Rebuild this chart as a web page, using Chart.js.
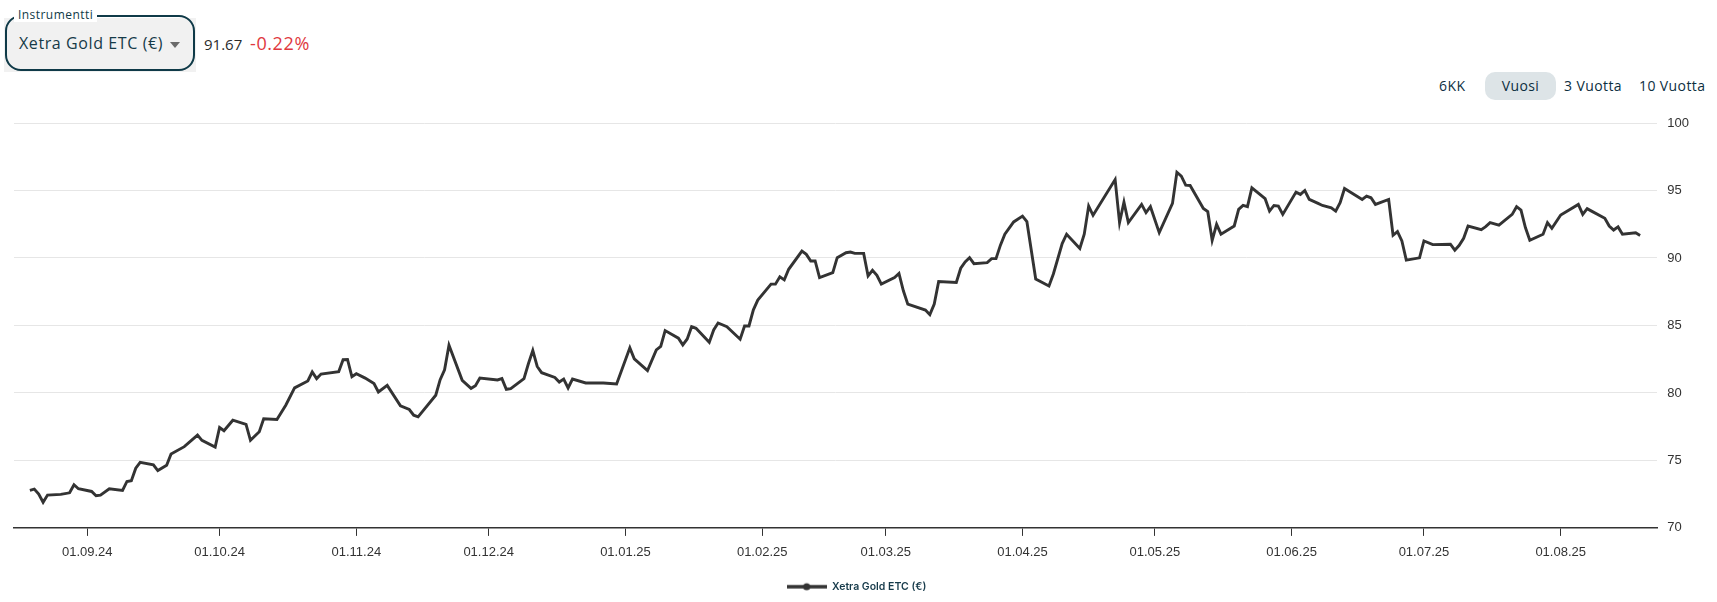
<!DOCTYPE html>
<html lang="fi">
<head>
<meta charset="utf-8">
<title>Xetra Gold ETC (€)</title>
<script src="https://cdn.jsdelivr.net/npm/chart.js@4.4.1/dist/chart.umd.min.js"></script>
<style>
  html, body { margin: 0; padding: 0; background: #fff; }
  body { width: 1717px; height: 602px; position: relative; overflow: hidden; font-family: "Open Sans", sans-serif; }

  .valinta-tausta { position: absolute; left: 4px; top: 18px; width: 192px; height: 54px; background: #f1f1f1; }
  .valinta { position: absolute; left: 5px; top: 15px; width: 186px; height: 52px; border: 2px solid #0f3a48; border-radius: 16px; }
  .valinta-otsikko { position: absolute; left: 7px; top: -9px; padding: 0 4px; background: #fff; font-size: 12px; letter-spacing: 0.45px; line-height: 14px; color: #0f3a48; }
  .valinta-teksti { position: absolute; left: 12px; top: 16px; font-size: 16px; letter-spacing: 0.6px; line-height: 20px; color: #163a48; white-space: nowrap; }
  .nuoli { position: absolute; left: 163px; top: 25px; width: 0; height: 0; border-left: 5px solid transparent; border-right: 5px solid transparent; border-top: 6px solid #6b6b6b; }
  .hinta { position: absolute; left: 204px; top: 34px; font-size: 15px; line-height: 20px; color: #2b2b2b; }
  .muutos { position: absolute; left: 250px; top: 33px; font-size: 18px; letter-spacing: 0.6px; line-height: 20px; color: #e0383e; }

  .jakso { position: absolute; top: 76px; font-size: 14px; letter-spacing: 0.4px; line-height: 20px; color: #0d2f3f; white-space: nowrap; }
  .jakso.valittu { top: 72px; height: 28px; line-height: 28px; width: 71px; text-align: center; background: #dde4e7; border-radius: 10px; }

  #kaavio { position: absolute; left: 0; top: 100px; width: 1717px; height: 502px; }
</style>
</head>
<body>

<div class="valinta-tausta"></div>
<div class="valinta">
  <span class="valinta-otsikko">Instrumentti</span>
  <span class="valinta-teksti">Xetra Gold ETC (€)</span>
  <span class="nuoli"></span>
</div>
<span class="hinta">91.67</span>
<span class="muutos">-0.22%</span>

<span class="jakso" style="left:1439px">6KK</span>
<span class="jakso valittu" style="left:1485px">Vuosi</span>
<span class="jakso" style="left:1564px">3 Vuotta</span>
<span class="jakso" style="left:1639px">10 Vuotta</span>

<div id="kaavio"><canvas id="grafiikka"></canvas></div>

<script>
// datas (luettu kuvasta)
const dates = [
    '2024-08-19', '2024-08-20', '2024-08-21', '2024-08-22', '2024-08-23', '2024-08-26', '2024-08-28', '2024-08-29', '2024-08-30',
    '2024-09-02', '2024-09-03', '2024-09-04', '2024-09-06', '2024-09-09', '2024-09-10', '2024-09-11', '2024-09-12', '2024-09-13',
    '2024-09-16', '2024-09-17', '2024-09-19', '2024-09-20', '2024-09-23', '2024-09-26', '2024-09-27', '2024-09-30',
    '2024-10-01', '2024-10-02', '2024-10-04', '2024-10-07', '2024-10-08', '2024-10-10', '2024-10-11', '2024-10-14', '2024-10-16',
    '2024-10-18', '2024-10-21', '2024-10-22', '2024-10-23', '2024-10-24', '2024-10-28', '2024-10-29', '2024-10-30', '2024-10-31',
    '2024-11-01', '2024-11-03', '2024-11-05', '2024-11-06', '2024-11-08', '2024-11-11', '2024-11-13', '2024-11-14', '2024-11-15',
    '2024-11-19', '2024-11-20', '2024-11-21', '2024-11-22', '2024-11-25', '2024-11-27', '2024-11-28', '2024-11-29',
    '2024-12-03', '2024-12-04', '2024-12-05', '2024-12-06', '2024-12-09', '2024-12-10', '2024-12-11', '2024-12-12', '2024-12-13',
    '2024-12-16', '2024-12-17', '2024-12-18', '2024-12-19', '2024-12-20', '2024-12-23', '2024-12-27', '2024-12-30',
    '2025-01-02', '2025-01-03', '2025-01-06', '2025-01-08', '2025-01-09', '2025-01-10', '2025-01-13', '2025-01-14', '2025-01-15',
    '2025-01-16', '2025-01-17', '2025-01-20', '2025-01-21', '2025-01-22', '2025-01-24', '2025-01-27', '2025-01-28', '2025-01-29',
    '2025-01-30', '2025-01-31',
    '2025-02-03', '2025-02-04', '2025-02-05', '2025-02-06', '2025-02-07', '2025-02-10', '2025-02-11', '2025-02-12', '2025-02-13',
    '2025-02-14', '2025-02-17', '2025-02-18', '2025-02-20', '2025-02-21', '2025-02-22', '2025-02-24', '2025-02-25', '2025-02-26',
    '2025-02-27', '2025-02-28',
    '2025-03-03', '2025-03-04', '2025-03-05', '2025-03-06', '2025-03-10', '2025-03-11', '2025-03-12', '2025-03-13', '2025-03-17',
    '2025-03-18', '2025-03-19', '2025-03-20', '2025-03-21', '2025-03-24', '2025-03-25', '2025-03-26', '2025-03-27', '2025-03-28',
    '2025-03-30',
    '2025-04-01', '2025-04-02', '2025-04-04', '2025-04-07', '2025-04-08', '2025-04-10', '2025-04-11', '2025-04-14', '2025-04-15',
    '2025-04-16', '2025-04-17', '2025-04-22', '2025-04-23', '2025-04-24', '2025-04-25', '2025-04-28', '2025-04-29', '2025-04-30',
    '2025-05-02', '2025-05-05', '2025-05-06', '2025-05-07', '2025-05-08', '2025-05-09', '2025-05-12', '2025-05-13', '2025-05-14',
    '2025-05-15', '2025-05-16', '2025-05-19', '2025-05-20', '2025-05-21', '2025-05-22', '2025-05-23', '2025-05-26', '2025-05-27',
    '2025-05-28', '2025-05-29', '2025-05-30',
    '2025-06-02', '2025-06-03', '2025-06-04', '2025-06-05', '2025-06-07', '2025-06-08', '2025-06-10', '2025-06-11', '2025-06-12',
    '2025-06-13', '2025-06-17', '2025-06-18', '2025-06-19', '2025-06-20', '2025-06-23', '2025-06-24', '2025-06-25', '2025-06-26',
    '2025-06-27', '2025-06-30',
    '2025-07-01', '2025-07-03', '2025-07-07', '2025-07-08', '2025-07-09', '2025-07-10', '2025-07-11', '2025-07-14', '2025-07-15',
    '2025-07-16', '2025-07-18', '2025-07-21', '2025-07-22', '2025-07-23', '2025-07-24', '2025-07-25', '2025-07-28', '2025-07-29',
    '2025-07-30',
    '2025-08-01', '2025-08-05', '2025-08-06', '2025-08-07', '2025-08-08', '2025-08-11', '2025-08-12', '2025-08-13', '2025-08-14',
    '2025-08-15', '2025-08-18', '2025-08-19'
];

const prices = [
    72.78, 72.87, 72.5, 71.9, 72.43, 72.48, 72.6, 73.2, 72.9,
    72.7, 72.38, 72.43, 72.9, 72.78, 73.44, 73.49, 74.42, 74.86,
    74.67, 74.25, 74.64, 75.48, 76.02, 76.88, 76.49, 75.99,
    77.44, 77.2, 77.98, 77.67, 76.49, 77.13, 78.09, 78.03, 79.09,
    80.37, 80.89, 81.55, 81.06, 81.4, 81.57, 82.46, 82.48, 81.2,
    81.42, 81.1, 80.69, 80.07, 80.56, 79.04, 78.77, 78.35, 78.23,
    79.83, 80.98, 81.72, 83.54, 80.93, 80.34, 80.54, 81.1,
    80.96, 81.06, 80.27, 80.32, 81.06, 82.16, 83.14, 81.96, 81.5,
    81.15, 80.81, 81.03, 80.37, 81.03, 80.74, 80.74, 80.66,
    83.34, 82.53, 81.65, 83.19, 83.44, 84.62, 84.06, 83.56, 84.0,
    84.91, 84.79, 83.76, 84.67, 85.18, 84.91, 83.98, 84.96, 84.96,
    86.16, 86.88,
    88.06, 88.06, 88.6, 88.38, 89.16, 90.51, 90.27, 89.78, 89.78,
    88.55, 88.92, 90.02, 90.39, 90.44, 90.34, 90.34, 88.67, 89.09,
    88.72, 88.06,
    88.55, 88.85, 87.57, 86.58, 86.14, 85.8, 86.58, 88.25, 88.18,
    89.24, 89.71, 90.02, 89.58, 89.65, 89.95, 89.95, 90.95, 91.76,
    92.67,
    93.1, 92.69, 88.44, 87.92, 88.81, 91.07, 91.76, 90.7, 91.76,
    93.85, 93.16, 95.81, 92.62, 94.14, 92.62, 93.97, 93.36, 93.8,
    91.88, 94.04, 96.35, 96.06, 95.39, 95.37, 93.67, 93.43, 91.31,
    92.49, 91.76, 92.37, 93.6, 93.89, 93.8, 95.2, 94.39, 93.47,
    93.89, 93.84, 93.23,
    94.88, 94.71, 95.0, 94.34, 94.04, 93.89, 93.72, 93.47, 94.09,
    95.15, 94.34, 94.58, 94.46, 93.97, 94.34, 91.68, 91.95, 91.26,
    89.84, 90.01,
    91.26, 90.99, 91.02, 90.58, 90.94, 91.46, 92.37, 92.1, 92.32,
    92.62, 92.44, 93.23, 93.8, 93.55, 92.25, 91.31, 91.76, 92.62,
    92.2,
    93.18, 93.97, 93.23, 93.65, 93.47, 92.94, 92.37, 92.07, 92.3,
    91.76, 91.86, 91.67
];

const tickDates = [
    '2024-09-01', '2024-10-01', '2024-11-01', '2024-12-01', '2025-01-01', '2025-02-01',
    '2025-03-01', '2025-04-01', '2025-05-01', '2025-06-01', '2025-07-01', '2025-08-01'
];

const yTicks = [70, 75, 80, 85, 90, 95, 100];

const seriesName = 'Xetra Gold ETC (€)';

const DAY = 24 * 60 * 60 * 1000;

function formatDate(ms) {
    const d = new Date(ms);
    const dd = String(d.getUTCDate()).padStart(2, '0');
    const mm = String(d.getUTCMonth() + 1).padStart(2, '0');
    const yy = String(d.getUTCFullYear()).slice(2);
    return `${dd}.${mm}.${yy}`;
}

const points = dates.map((d, i) => ({ x: Date.parse(d), y: prices[i] }));

// legendan ikoni: viiva + pallo
const legendIcon = document.createElement('canvas');
legendIcon.width = 40;
legendIcon.height = 10;
const ictx = legendIcon.getContext('2d');
ictx.strokeStyle = '#333333';
ictx.lineWidth = 3.5;
ictx.beginPath();
ictx.moveTo(0, 5);
ictx.lineTo(40, 5);
ictx.stroke();
ictx.fillStyle = '#333333';
ictx.beginPath();
ictx.arc(20, 5, 3.6, 0, Math.PI * 2);
ictx.fill();

const axisFont = { family: '"Liberation Sans", Arial, sans-serif', size: 13 };

const config = {
    type: 'line',
    data: {
        datasets: [{
            label: seriesName,
            data: points,
            borderColor: '#333333',
            backgroundColor: '#333333',
            borderWidth: 2.9,
            pointRadius: 0,
            tension: 0,
            fill: false
        }]
    },
    options: {
        responsive: true,
        maintainAspectRatio: false,
        animation: false,
        layout: { padding: { left: 14, right: 18, top: 23, bottom: 0 } },
        scales: {
            x: {
                type: 'linear',
                min: Date.parse(dates[0]) - 3.6 * DAY,
                max: Date.parse(dates[dates.length - 1]) + 3.9 * DAY,
                afterBuildTicks: (axis) => {
                    axis.ticks = tickDates.map(d => ({ value: Date.parse(d) }));
                },
                grid: { drawOnChartArea: false, drawTicks: true, tickLength: 8, color: '#333333' },
                border: { display: true, color: '#333333', width: 1.5 },
                ticks: {
                    autoSkip: false,
                    maxRotation: 0,
                    padding: 9,
                    color: '#333333',
                    font: axisFont,
                    callback: (value) => formatDate(value)
                }
            },
            y: {
                position: 'right',
                min: 70,
                max: 100,
                afterBuildTicks: (axis) => {
                    axis.ticks = yTicks.map(v => ({ value: v }));
                },
                grid: { color: '#e6e6e6', drawTicks: false },
                border: { display: false },
                ticks: { padding: 10, color: '#333333', font: axisFont }
            }
        },
        plugins: {
            legend: {
                position: 'bottom',
                labels: {
                    usePointStyle: true,
                    pointStyle: legendIcon,
                    pointStyleWidth: 40,
                    padding: 12,
                    color: '#163a4a',
                    font: { family: 'Inter, "Open Sans", sans-serif', size: 10.5, weight: '600' }
                }
            },
            tooltip: { enabled: false }
        }
    }
};

const myChart = new Chart(document.getElementById('grafiikka'), config);
</script>
</body>
</html>
